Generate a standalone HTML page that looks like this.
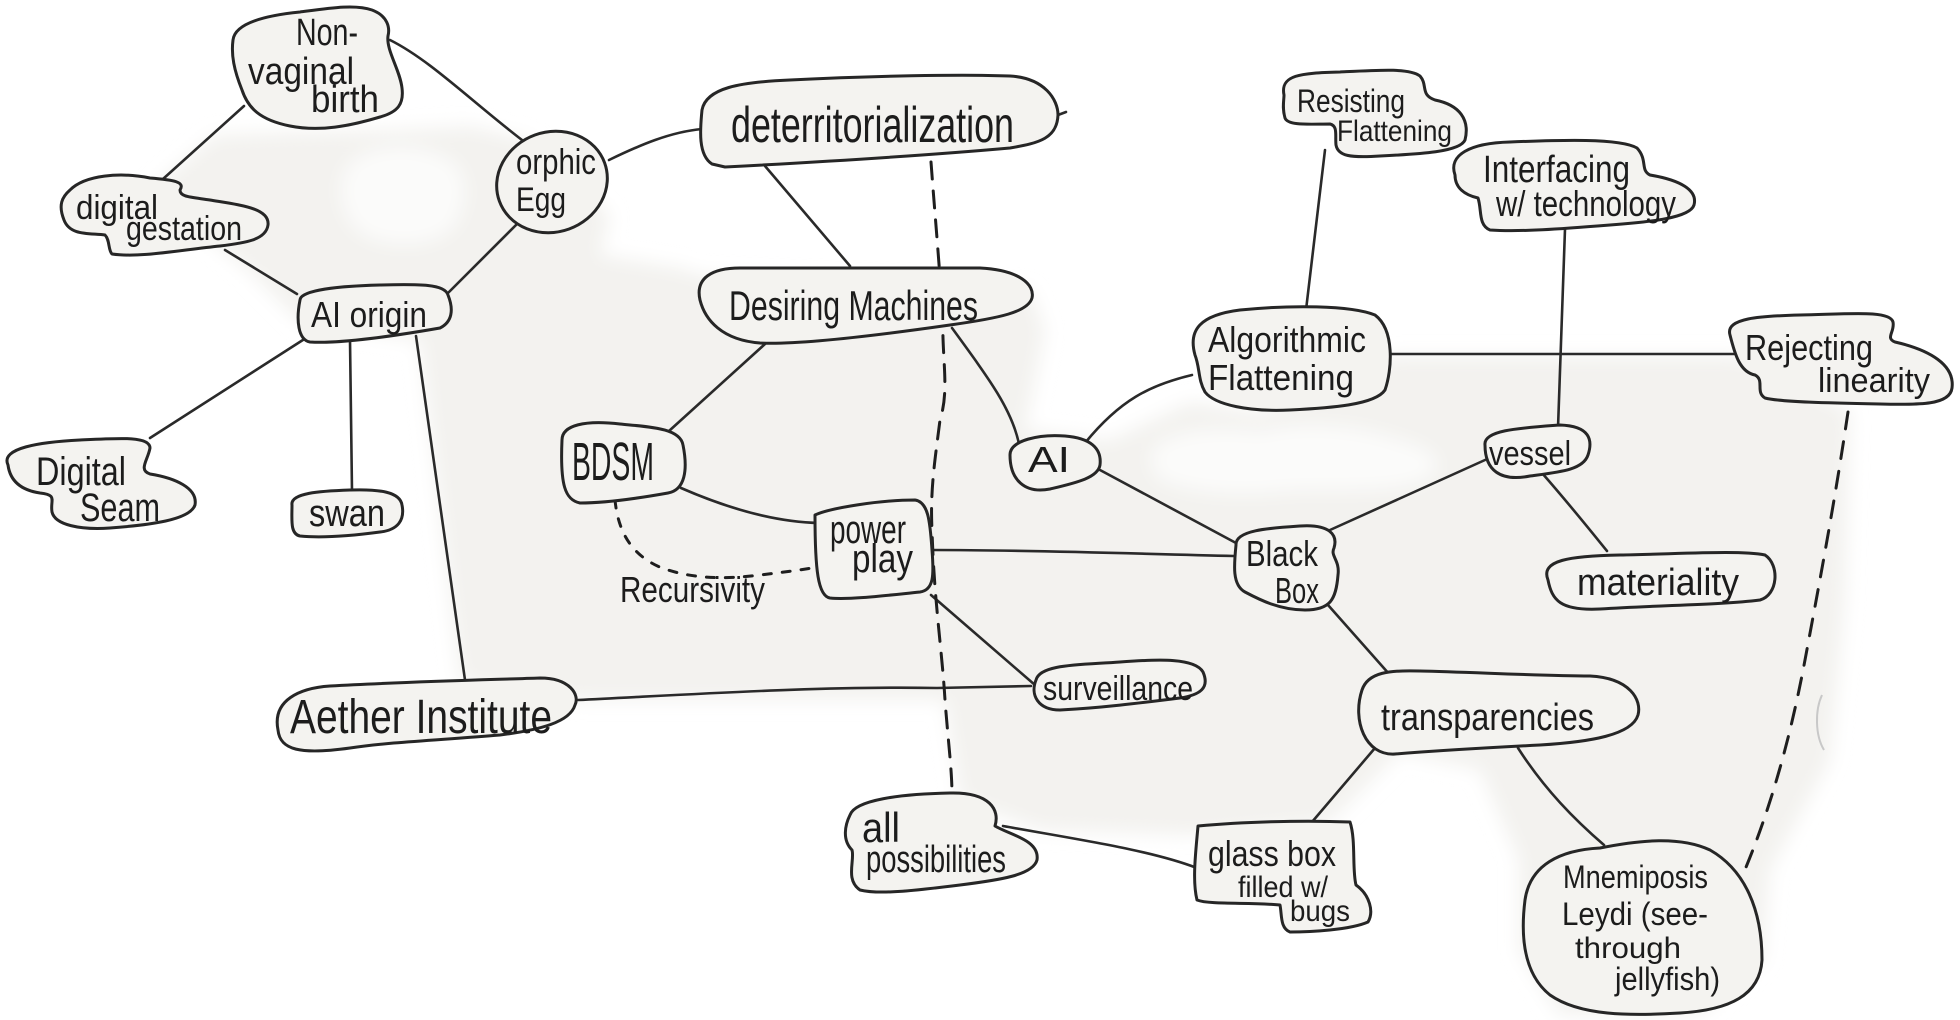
<!DOCTYPE html>
<html>
<head>
<meta charset="utf-8">
<style>
  html,body{margin:0;padding:0;background:#ffffff;}
  svg{display:block;}
  .n{fill:#f4f3f0;stroke:#262626;stroke-width:3;stroke-linejoin:round;stroke-linecap:round;}
  .e{fill:none;stroke:#2a2a2a;stroke-width:2.6;stroke-linecap:round;}
  .d{fill:none;stroke:#1e1e1e;stroke-width:3;stroke-linecap:round;}
  text{font-family:"Liberation Sans","DejaVu Sans",sans-serif;fill:#1c1c1c;}
</style>
</head>
<body>
<svg width="1960" height="1020" viewBox="0 0 1960 1020" xmlns="http://www.w3.org/2000/svg">
  <defs>
    <filter id="soft" x="-5%" y="-5%" width="110%" height="110%">
      <feGaussianBlur stdDeviation="9"/>
    </filter>
  </defs>

  <!-- grey background region -->
  <g filter="url(#soft)">
    <path fill="#f3f2ef" d="M150,190 L215,135 L300,132 L400,130 L470,126 L530,140 L610,215 L600,255 L680,268 L700,275 L1030,290 L1045,330 L1025,430 L1110,440 L1190,402 L1260,412 L1390,356 L1740,356 L1850,410 L1845,600 L1830,760 L1770,870 L1763,960 L1700,1015 L1560,1015 L1519,950 L1519,860 L1480,770 L1400,752 L1330,822 L1194,835 L1040,830 L960,800 L945,700 L578,700 L460,682 L420,340 L300,322 L250,272 Z"/>
    <path fill="#fbfbfa" d="M1150,455 C1160,430 1220,425 1260,432 C1300,420 1360,425 1400,440 C1440,450 1450,470 1420,482 C1380,495 1320,488 1280,492 C1230,498 1170,490 1155,475 Z"/>
    <path fill="#fbfbfa" d="M345,170 C360,145 410,140 440,155 C470,165 470,200 455,225 C440,245 400,250 370,238 C345,228 335,195 345,170 Z"/>
  </g>

  <!-- solid edges -->
  <g class="e">
    <path d="M244,106 L163,179"/>
    <path d="M390,40 C430,60 470,100 522,140"/>
    <path d="M225,250 L297,294"/>
    <path d="M519,222 L444,297"/>
    <path d="M609,160 C640,145 670,132 702,129"/>
    <path d="M306,338 L150,438"/>
    <path d="M350,340 L352,491"/>
    <path d="M416,336 L465,680"/>
    <path d="M765,166 L850,266"/>
    <path d="M765,344 L669,431"/>
    <path d="M952,328 C990,380 1012,410 1019,444"/>
    <path d="M681,488 C720,505 770,522 819,523"/>
    <path d="M931,550 C1040,550 1140,554 1234,556"/>
    <path d="M931,595 L1035,685"/>
    <path d="M578,700 C700,694 820,686 937,688 L1031,686"/>
    <path d="M1100,470 L1236,543"/>
    <path d="M1085,443 C1120,400 1150,385 1192,375"/>
    <path d="M1390,354 L1738,354"/>
    <path d="M1325,150 L1306,310"/>
    <path d="M1565,229 L1558,428"/>
    <path d="M1485,460 L1330,530"/>
    <path d="M1542,473 C1570,505 1590,530 1607,551"/>
    <path d="M1328,605 L1390,675"/>
    <path d="M1375,748 L1312,822"/>
    <path d="M1518,748 C1545,790 1575,820 1604,845"/>
    <path d="M1003,826 C1080,840 1150,850 1197,868"/>
    <path d="M1058,115 L1066,112"/>
  </g>

  <!-- dashed edges -->
  <g class="d">
    <path d="M931,162 C936,230 942,290 943,338 C944,370 948,395 940,420 C935,460 930,490 932,530 C934,600 942,650 945,700 C948,740 952,770 952,795" stroke-dasharray="17 12"/>
    <path d="M615,500 C618,530 630,555 662,568 C690,578 720,580 760,575 C785,572 800,570 812,568" stroke-dasharray="8 11"/>
    <path d="M1848,412 C1835,500 1820,580 1805,660 C1790,740 1770,810 1744,872" stroke-dasharray="17 13"/>
  </g>
  <!-- faint marks -->
  <path d="M1822,695 C1815,710 1815,735 1824,750" fill="none" stroke="#c8c8c8" stroke-width="2"/>

  <!-- nodes -->
  <path class="n" d="M233,40 C235,22 270,15 300,12 C330,8 355,4 372,10 C388,16 390,28 388,36 C386,50 400,70 402,88 C404,104 398,112 380,117 C350,126 320,132 290,126 C260,120 248,108 242,90 C234,70 231,55 233,40 Z"/>
  <path class="n" d="M70,190 C85,175 120,172 150,178 C175,180 185,182 180,190 C180,197 190,197 210,200 C240,205 270,208 268,225 C266,240 245,243 220,246 C180,250 140,258 112,254 C108,250 110,240 105,235 C90,233 70,236 64,220 C58,205 62,197 70,190 Z"/>
  <ellipse class="n" cx="552" cy="182" rx="56" ry="50" transform="rotate(-20 552 182)"/>
  <path class="n" d="M712,164 C698,155 700,130 702,110 C706,88 740,82 790,80 C870,76 960,74 1010,76 C1045,78 1058,100 1058,115 C1057,138 1040,143 1010,148 C920,156 820,162 725,167 Z"/>
  <path class="n" d="M300,300 C300,290 340,286 380,285 C420,284 445,284 448,295 C454,310 452,322 440,328 C400,335 340,344 310,342 C298,340 296,320 300,300 Z"/>
  <path class="n" d="M700,300 C695,278 712,268 740,268 L980,268 C1020,270 1035,285 1032,298 C1028,312 1000,318 950,325 C880,335 800,345 760,343 C722,340 705,320 700,300 Z"/>
  <path class="n" d="M8,465 C0,448 40,442 80,440 C120,438 150,436 150,448 C148,460 138,470 150,474 C175,478 198,488 195,505 C190,520 150,525 110,528 C80,530 55,525 52,512 C50,500 58,495 40,493 C20,490 10,480 8,465 Z"/>
  <path class="n" d="M292,505 C290,493 320,491 350,490 C380,489 400,492 402,505 C405,520 398,530 380,532 C350,536 320,538 300,536 C290,534 292,520 292,505 Z"/>
  <path class="n" d="M562,440 C562,425 585,420 620,424 C650,427 680,428 683,445 C688,470 685,490 668,493 C640,498 605,503 580,503 C565,500 560,485 562,440 Z"/>
  <path class="n" d="M1010,455 C1010,440 1040,434 1065,436 C1090,438 1102,448 1100,465 C1098,478 1075,483 1050,489 C1025,494 1010,480 1010,455 Z"/>
  <path class="n" d="M815,515 C830,508 880,500 915,500 C928,502 930,520 932,550 C934,575 934,590 920,592 C890,595 850,600 830,598 C818,596 815,570 815,515 Z"/>
  <path class="n" d="M1036,680 C1040,664 1080,665 1120,662 C1160,659 1195,658 1203,672 C1210,688 1200,695 1180,698 C1140,703 1100,708 1060,710 C1038,710 1030,695 1036,680 Z"/>
  <path class="n" d="M278,730 C272,700 300,688 330,686 C400,682 480,680 540,678 C570,678 580,695 575,705 C570,722 540,730 500,735 C440,740 390,742 350,748 C300,755 280,750 278,730 Z"/>
  <path class="n" d="M850,815 C855,800 900,794 950,793 C990,792 1000,810 995,826 C1010,835 1040,840 1037,860 C1033,875 1000,880 960,885 C920,890 880,895 860,890 C845,880 855,860 852,850 C842,840 845,825 850,815 Z"/>
  <path class="n" d="M1198,826 C1240,822 1300,820 1350,822 C1356,840 1352,870 1356,885 C1370,895 1374,912 1368,922 C1350,930 1310,932 1290,932 C1280,928 1282,915 1280,905 C1250,902 1210,905 1197,900 C1192,880 1196,850 1198,826 Z"/>
  <path class="n" d="M1284,95 C1280,75 1300,73 1340,72 C1380,70 1410,68 1420,76 C1428,85 1420,95 1435,100 C1460,105 1470,120 1465,140 C1460,152 1420,154 1380,156 C1350,158 1338,156 1336,145 C1335,135 1338,126 1330,124 C1310,124 1288,126 1285,118 C1282,108 1284,100 1284,95 Z"/>
  <path class="n" d="M1455,175 C1448,155 1470,143 1510,142 C1560,140 1620,138 1637,148 C1648,160 1640,170 1650,175 C1680,180 1698,190 1694,205 C1690,218 1650,222 1610,225 C1560,229 1520,232 1490,230 C1478,225 1482,210 1478,198 C1465,195 1455,188 1455,175 Z"/>
  <path class="n" d="M1195,355 C1188,330 1200,315 1240,310 C1290,305 1350,305 1375,315 C1395,330 1392,370 1385,390 C1375,405 1330,408 1290,410 C1250,412 1215,405 1205,392 C1198,380 1200,368 1195,355 Z"/>
  <path class="n" d="M1730,335 C1725,318 1760,316 1800,315 C1850,314 1890,310 1893,322 C1895,332 1885,338 1895,342 C1930,350 1955,365 1952,388 C1950,405 1920,405 1880,404 C1830,403 1780,402 1765,398 C1755,392 1765,380 1755,375 C1740,372 1735,355 1730,335 Z"/>
  <path class="n" d="M1485,445 C1483,430 1520,428 1560,425 C1590,426 1593,440 1588,455 C1583,470 1560,472 1530,476 C1500,482 1485,470 1485,445 Z"/>
  <path class="n" d="M1236,545 C1235,530 1270,528 1300,526 C1330,524 1338,535 1334,548 C1330,556 1340,560 1338,575 C1336,600 1330,610 1305,610 C1280,610 1260,600 1245,592 C1232,585 1234,565 1236,545 Z"/>
  <path class="n" d="M1548,580 C1540,560 1570,556 1620,555 C1680,554 1740,550 1765,555 C1780,565 1778,595 1760,600 C1720,605 1660,605 1600,609 C1560,611 1552,600 1548,580 Z"/>
  <path class="n" d="M1362,690 C1368,672 1390,670 1420,671 C1470,672 1540,676 1590,676 C1630,678 1642,700 1638,715 C1632,735 1590,742 1540,745 C1480,748 1420,752 1395,754 C1365,756 1352,720 1362,690 Z"/>
  <path class="n" d="M1525,900 C1530,865 1560,850 1600,848 C1640,840 1680,836 1710,850 C1745,870 1762,910 1762,960 C1760,995 1730,1010 1680,1013 C1630,1016 1580,1016 1550,995 C1525,975 1520,940 1525,900 Z"/>

  <!-- labels -->
  <g>
    <text x="296" y="45" font-size="38" textLength="62" lengthAdjust="spacingAndGlyphs">Non-</text>
    <text x="248" y="84" font-size="38" textLength="106" lengthAdjust="spacingAndGlyphs">vaginal</text>
    <text x="311" y="112" font-size="38" textLength="68" lengthAdjust="spacingAndGlyphs">birth</text>

    <text x="76" y="219" font-size="34" textLength="82" lengthAdjust="spacingAndGlyphs">digital</text>
    <text x="126" y="240" font-size="34" textLength="116" lengthAdjust="spacingAndGlyphs">gestation</text>

    <text x="516" y="174" font-size="36" textLength="80" lengthAdjust="spacingAndGlyphs">orphic</text>
    <text x="516" y="211" font-size="34" textLength="50" lengthAdjust="spacingAndGlyphs">Egg</text>

    <text x="311" y="327" font-size="36" textLength="116" lengthAdjust="spacingAndGlyphs">AI origin</text>

    <text x="36" y="485" font-size="40" textLength="90" lengthAdjust="spacingAndGlyphs">Digital</text>
    <text x="80" y="521" font-size="40" textLength="80" lengthAdjust="spacingAndGlyphs">Seam</text>

    <text x="309" y="526" font-size="38" textLength="76" lengthAdjust="spacingAndGlyphs">swan</text>

    <text x="572" y="480" font-size="54" textLength="82" lengthAdjust="spacingAndGlyphs">BDSM</text>

    <text x="731" y="142" font-size="50" textLength="283" lengthAdjust="spacingAndGlyphs">deterritorialization</text>

    <text x="729" y="320" font-size="42" textLength="249" lengthAdjust="spacingAndGlyphs">Desiring Machines</text>

    <text x="1028" y="472" font-size="36" textLength="42" lengthAdjust="spacingAndGlyphs">AI</text>

    <text x="830" y="543" font-size="40" textLength="76" lengthAdjust="spacingAndGlyphs">power</text>
    <text x="852" y="572" font-size="40" textLength="61" lengthAdjust="spacingAndGlyphs">play</text>

    <text x="620" y="602" font-size="36" textLength="145" lengthAdjust="spacingAndGlyphs">Recursivity</text>

    <text x="1043" y="700" font-size="34" textLength="150" lengthAdjust="spacingAndGlyphs">surveillance</text>

    <text x="290" y="733" font-size="48" textLength="262" lengthAdjust="spacingAndGlyphs">Aether Institute</text>

    <text x="862" y="842" font-size="42" textLength="38" lengthAdjust="spacingAndGlyphs">all</text>
    <text x="866" y="872" font-size="38" textLength="140" lengthAdjust="spacingAndGlyphs">possibilities</text>

    <text x="1208" y="866" font-size="36" textLength="128" lengthAdjust="spacingAndGlyphs">glass box</text>
    <text x="1238" y="897" font-size="30" textLength="90" lengthAdjust="spacingAndGlyphs">filled w/</text>
    <text x="1290" y="921" font-size="30" textLength="60" lengthAdjust="spacingAndGlyphs">bugs</text>

    <text x="1297" y="112" font-size="32" textLength="108" lengthAdjust="spacingAndGlyphs">Resisting</text>
    <text x="1337" y="141" font-size="30" textLength="115" lengthAdjust="spacingAndGlyphs">Flattening</text>

    <text x="1483" y="182" font-size="38" textLength="147" lengthAdjust="spacingAndGlyphs">Interfacing</text>
    <text x="1496" y="216" font-size="36" textLength="180" lengthAdjust="spacingAndGlyphs">w/ technology</text>

    <text x="1208" y="352" font-size="36" textLength="158" lengthAdjust="spacingAndGlyphs">Algorithmic</text>
    <text x="1208" y="390" font-size="36" textLength="146" lengthAdjust="spacingAndGlyphs">Flattening</text>

    <text x="1745" y="360" font-size="36" textLength="128" lengthAdjust="spacingAndGlyphs">Rejecting</text>
    <text x="1818" y="392" font-size="34" textLength="112" lengthAdjust="spacingAndGlyphs">linearity</text>

    <text x="1489" y="465" font-size="34" textLength="82" lengthAdjust="spacingAndGlyphs">vessel</text>

    <text x="1246" y="566" font-size="36" textLength="72" lengthAdjust="spacingAndGlyphs">Black</text>
    <text x="1275" y="603" font-size="36" textLength="44" lengthAdjust="spacingAndGlyphs">Box</text>

    <text x="1577" y="595" font-size="38" textLength="162" lengthAdjust="spacingAndGlyphs">materiality</text>

    <text x="1381" y="730" font-size="38" textLength="213" lengthAdjust="spacingAndGlyphs">transparencies</text>

    <text x="1563" y="888" font-size="32" textLength="145" lengthAdjust="spacingAndGlyphs">Mnemiposis</text>
    <text x="1562" y="925" font-size="32" textLength="146" lengthAdjust="spacingAndGlyphs">Leydi (see-</text>
    <text x="1575" y="958" font-size="30" textLength="106" lengthAdjust="spacingAndGlyphs">through</text>
    <text x="1615" y="990" font-size="32" textLength="105" lengthAdjust="spacingAndGlyphs">jellyfish)</text>
  </g>
</svg>
</body>
</html>
